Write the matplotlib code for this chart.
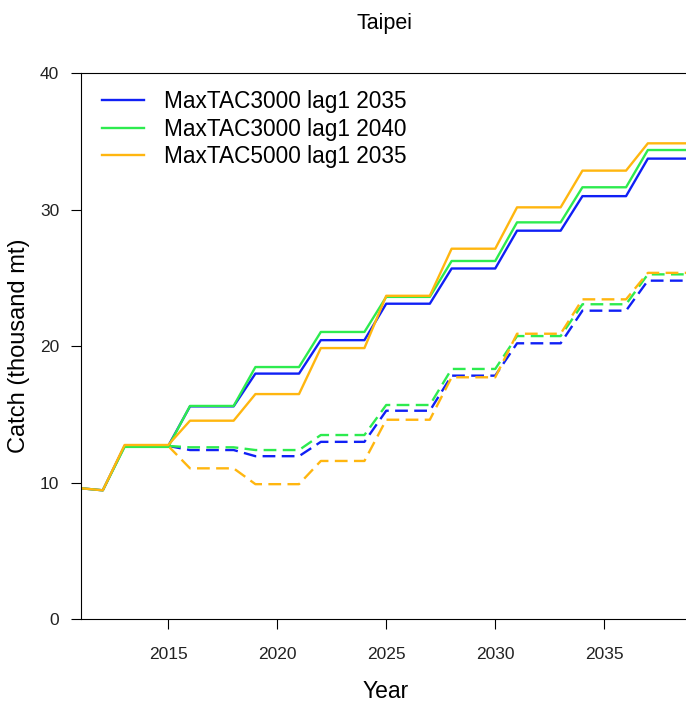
import numpy as np
import matplotlib
matplotlib.use('Agg')
import matplotlib.pyplot as plt

# annual catch, thousand mt
years = np.arange(2011, 2040)
years_proj = np.arange(2015, 2040)

labels = ['MaxTAC3000 lag1 2035', 'MaxTAC3000 lag1 2040', 'MaxTAC5000 lag1 2035']
colors = ['#1020F5', '#2DEB4F', '#FFB60F']

blue_main = [9.6, 9.45, 12.7, 12.7, 12.7, 15.6, 15.6, 15.6, 18.0, 18.0, 18.0,
             20.45, 20.45, 20.45, 23.12, 23.12, 23.12, 25.7, 25.7, 25.7,
             28.47, 28.47, 28.47, 31.0, 31.0, 31.0, 33.75, 33.75, 33.75]
green_main = [9.6, 9.45, 12.63, 12.63, 12.63, 15.63, 15.63, 15.63, 18.48, 18.48, 18.48,
              21.05, 21.05, 21.05, 23.62, 23.62, 23.62, 26.25, 26.25, 26.25,
              29.08, 29.08, 29.08, 31.65, 31.65, 31.65, 34.38, 34.38, 34.38]
orange_main = [9.6, 9.45, 12.77, 12.77, 12.77, 14.55, 14.55, 14.55, 16.5, 16.5, 16.5,
               19.87, 19.87, 19.87, 23.7, 23.7, 23.7, 27.15, 27.15, 27.15,
               30.18, 30.18, 30.18, 32.87, 32.87, 32.87, 34.87, 34.87, 34.87]

blue_dash = [12.7, 12.4, 12.4, 12.4, 11.95, 11.95, 11.95, 13.0, 13.0, 13.0,
             15.28, 15.28, 15.28, 17.85, 17.85, 17.85, 20.22, 20.22, 20.22,
             22.61, 22.61, 22.61, 24.81, 24.81, 24.81]
green_dash = [12.7, 12.6, 12.6, 12.6, 12.4, 12.4, 12.4, 13.5, 13.5, 13.5,
              15.7, 15.7, 15.7, 18.34, 18.34, 18.34, 20.75, 20.75, 20.75,
              23.08, 23.08, 23.08, 25.27, 25.27, 25.27]
orange_dash = [12.7, 11.06, 11.06, 11.06, 9.9, 9.9, 9.9, 11.6, 11.6, 11.6,
               14.62, 14.62, 14.62, 17.73, 17.73, 17.73, 20.92, 20.92, 20.92,
               23.44, 23.44, 23.44, 25.38, 25.38, 25.38]

plt.rcParams['font.family'] = ['Liberation Sans', 'DejaVu Sans']

fig = plt.figure(figsize=(6.86, 7.09), dpi=100)
ax = fig.add_axes([81 / 686, 89.7 / 709, 605 / 686, 546 / 709])

for vals, c in zip([blue_dash, green_dash, orange_dash], colors):
    ax.plot(years_proj, vals, color=c, lw=1.7, dashes=(5.4, 2.7))
for vals, c, lab in zip([blue_main, green_main, orange_main], colors, labels):
    ax.plot(years, vals, color=c, lw=1.7, label=lab)

ax.set_xlim(2011, 2038.75)
ax.set_ylim(0, 40)
ax.set_xticks([2015, 2020, 2025, 2030, 2035])
ax.set_yticks([0, 10, 20, 30, 40])
ax.spines['right'].set_visible(False)
for s in ['top', 'bottom', 'left']:
    ax.spines[s].set_linewidth(0.8)

tick_font = ['Liberation Sans Narrow', 'Liberation Sans']
ax.tick_params(direction='out', length=7.2, width=0.8, colors='black')
ax.tick_params(axis='x', pad=13)
ax.tick_params(axis='y', pad=8.5)
for t in ax.get_xticklabels() + ax.get_yticklabels():
    t.set_family(tick_font)
    t.set_fontsize(12.5)
    t.set_color('#222222')

fig.text(386 / 686, 1 - 692 / 709, 'Year', ha='center', va='center', fontsize=16.5)
fig.text(19 / 686, 1 - 346 / 709, 'Catch (thousand mt)', rotation=90,
         ha='center', va='center', fontsize=17)
fig.text(384.5 / 686, 1 - 23 / 709, 'Taipei', ha='center', va='center', fontsize=15.5)

ax.legend(loc='upper left', bbox_to_anchor=(102 / 686, 1 - 90 / 709),
          bbox_transform=fig.transFigure, frameon=False, fontsize=16.3,
          handlelength=1.85, handletextpad=0.9, labelspacing=0.2,
          borderpad=0, borderaxespad=0)

fig.savefig('out.png', dpi=100)
